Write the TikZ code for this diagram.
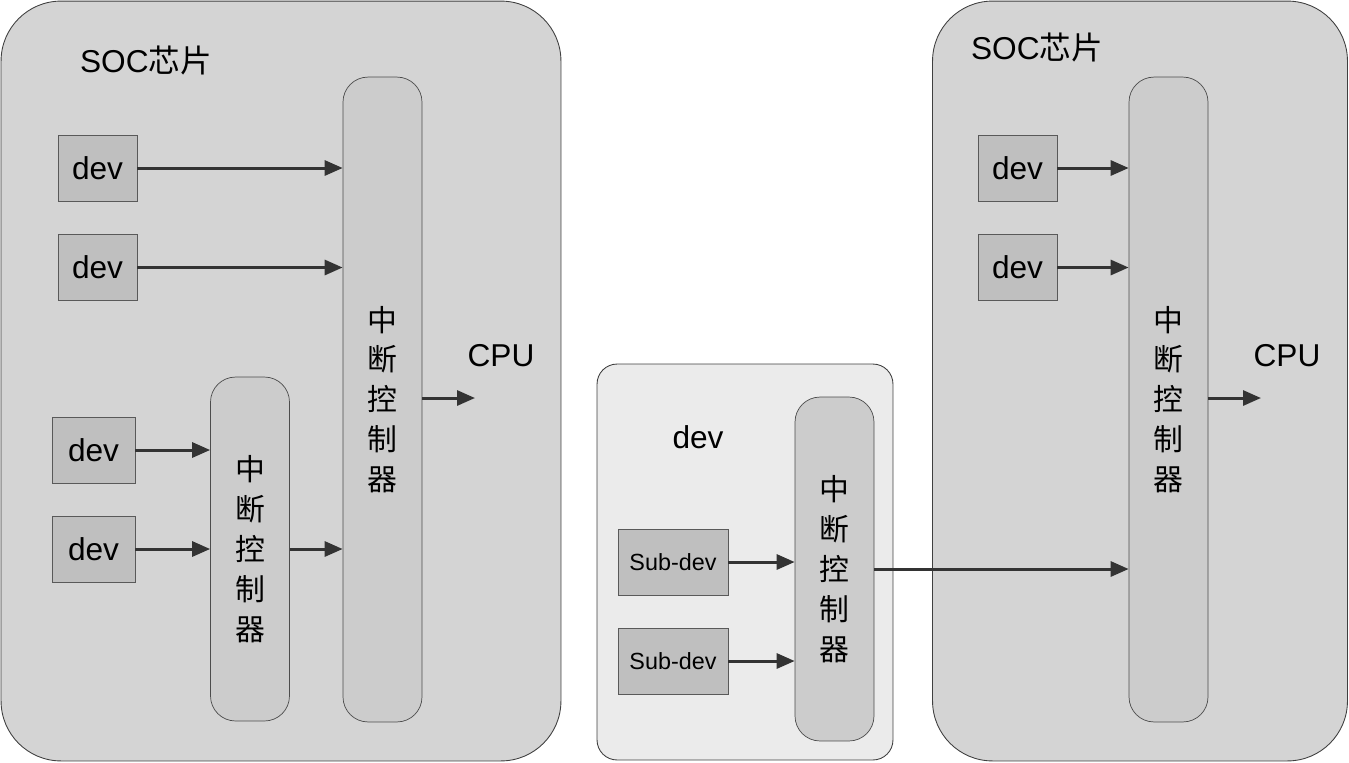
\documentclass[tikz,border=0pt]{standalone}
\usepackage{fontspec}
\setmainfont{Liberation Sans}
\newfontfamily\cjk{Noto Sans CJK SC}
\usetikzlibrary{arrows.meta}

\tikzset{
    chip/.style={draw=black!75, line width=0.5pt, fill=black!17, rounded corners=1.2cm},
    subbox/.style={draw=black!75, line width=0.5pt, fill=black!8, rounded corners=0.4cm},
    ctrl/.style={draw=black!70, line width=0.4pt, fill=black!20, rounded corners=0.5cm,
        minimum width=1.58cm, inner sep=0, align=center,
        font=\cjk\fontsize{17}{22.7}\selectfont},
    devbox/.style={draw=black!65, line width=0.5pt, fill=black!25, minimum height=1.32cm,
        inner sep=0, font=\fontsize{18}{20}\selectfont},
    sig/.style={-{Triangle[length=0.36cm,width=0.3cm]}, line width=1.7pt, draw=black!80},
    lbl/.style={inner sep=0, font=\fontsize{18}{20}\selectfont}
}

\begin{document}
\begin{tikzpicture}[x=0.02cm, y=-0.02cm]
            \useasboundingbox (0, 0) rectangle (1349, 762);
            % the two chips and the device
            \node[chip, minimum width=11.2cm, minimum height=15.2cm] (socL) at (281, 381) {};
            \node[chip, minimum width=8.3cm, minimum height=15.2cm] (socR) at (1140, 381) {};
            \node[subbox, minimum width=5.92cm, minimum height=7.92cm] (devM) at (745, 562) {};
            \node[lbl] (socLt) at (146, 60) {SOC{\cjk 芯片}};
            \node[lbl] (socRt) at (1037, 47) {SOC{\cjk 芯片}};
            \node[lbl] (devMt) at (698, 437) {dev};
            \node[lbl] (cpuLt) at (501, 356) {CPU};
            \node[lbl] (cpuRt) at (1287, 356) {CPU};
            % interrupt controllers
            \node[ctrl, minimum height=12.9cm] (gicL) at (382.5, 399.5) {中\\断\\控\\制\\器};
            \node[ctrl, minimum height=6.88cm] (subL) at (250, 549) {中\\断\\控\\制\\器};
            \node[ctrl, minimum height=6.88cm] (gicM) at (834.5, 569) {中\\断\\控\\制\\器};
            \node[ctrl, minimum height=12.9cm] (gicR) at (1168.5, 399.5) {中\\断\\控\\制\\器};
            % devices
            \node[devbox, minimum width=1.58cm] (d1) at (97.5, 168) {dev};
            \node[devbox, minimum width=1.58cm] (d2) at (97.5, 267.5) {dev};
            \node[devbox, minimum width=1.66cm] (d3) at (93.5, 450) {dev};
            \node[devbox, minimum width=1.66cm] (d4) at (93.5, 549) {dev};
            \node[devbox, minimum width=2.2cm, font=\fontsize{13.3}{15}\selectfont] (s1) at (673, 562) {Sub-dev};
            \node[devbox, minimum width=2.2cm, font=\fontsize{13.3}{15}\selectfont] (s2) at (673, 661) {Sub-dev};
            \node[devbox, minimum width=1.58cm] (d5) at (1017.5, 168) {dev};
            \node[devbox, minimum width=1.58cm] (d6) at (1017.5, 267.5) {dev};
            \coordinate (cpuL) at (475, 398);
            \coordinate (cpuR) at (1261, 398);
            % signal lines
            \draw[sig] (d1.east) -- (gicL.west |- d1.east);
            \draw[sig] (d2.east) -- (gicL.west |- d2.east);
            \draw[sig] (d3.east) -- (subL.west |- d3.east);
            \draw[sig] (d4.east) -- (subL.west |- d4.east);
            \draw[sig] (subL.east) -- (gicL.west |- subL.east);
            \draw[sig] (gicL.east |- cpuL) -- (cpuL);
            \draw[sig] (s1.east) -- (gicM.west |- s1.east);
            \draw[sig] (s2.east) -- (gicM.west |- s2.east);
            \draw[sig] (gicM.east) -- (gicR.west |- gicM.east);
            \draw[sig] (d5.east) -- (gicR.west |- d5.east);
            \draw[sig] (d6.east) -- (gicR.west |- d6.east);
            \draw[sig] (gicR.east |- cpuR) -- (cpuR);
        \end{tikzpicture}
\end{document}
